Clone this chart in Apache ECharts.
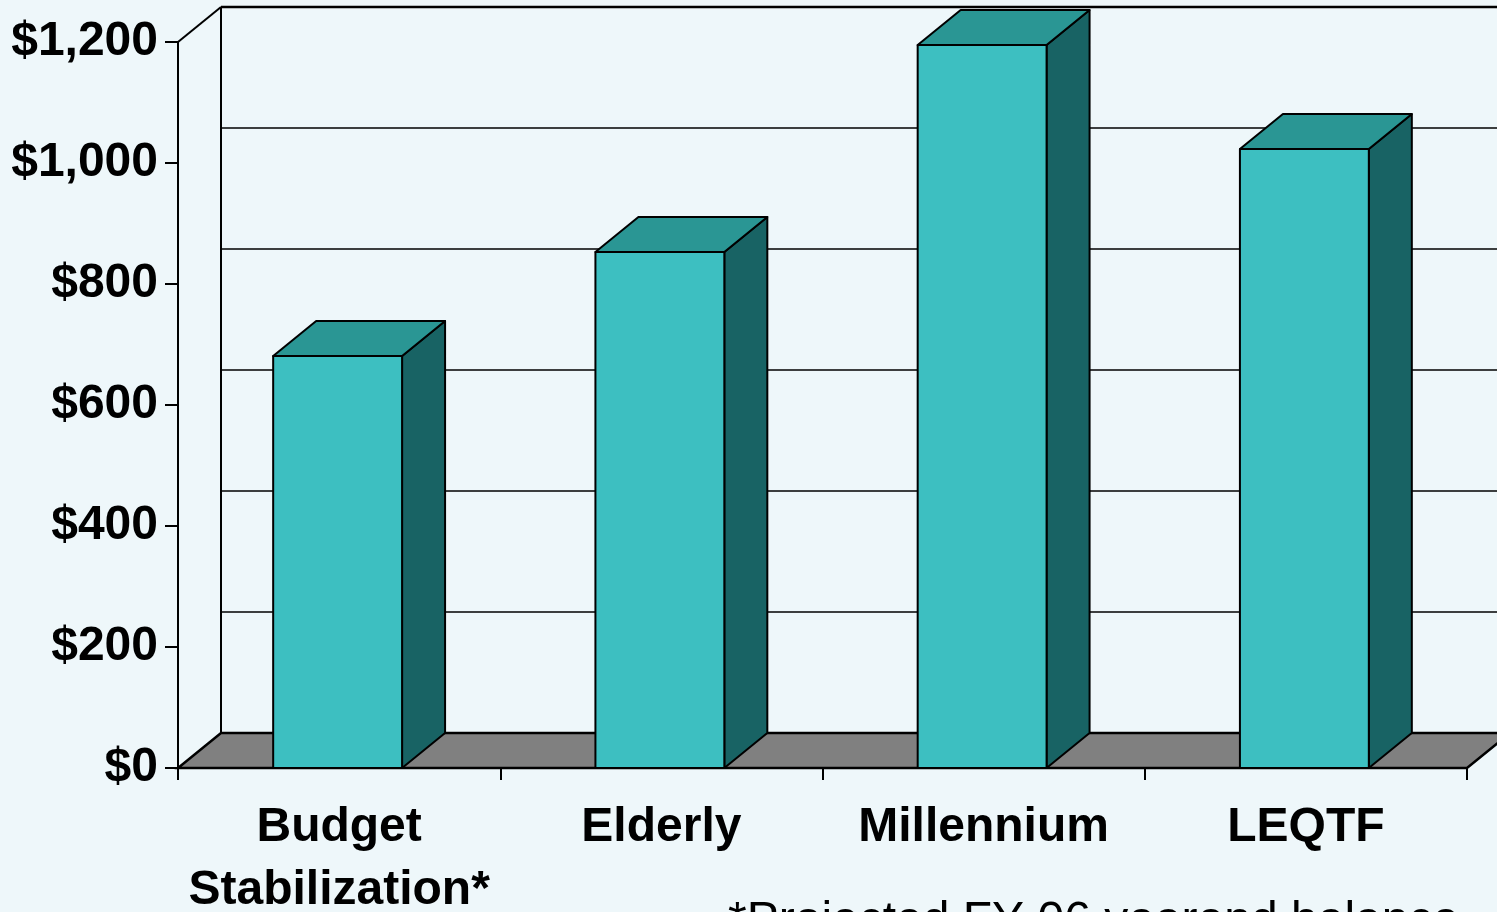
<!DOCTYPE html>
<html><head><meta charset="utf-8">
<script src="https://cdn.jsdelivr.net/npm/echarts@6/dist/echarts.min.js"></script>
<style>html,body{margin:0;padding:0;background:#EEF7FA;overflow:hidden}#c{width:1497px;height:912px}</style>
</head><body><div id="c"></div>
<script>
const categories = ['Budget\nStabilization*', 'Elderly', 'Millennium', 'LEQTF'];
const values = [681, 853, 1195, 1023];
const yTicks = [0, 200, 400, 600, 800, 1000, 1200];
const yTickLabels = ['$0', '$200', '$400', '$600', '$800', '$1,000', '$1,200'];
const footnote = '*Projected FY 06 yearend balance';

const DX = 43, DY = -35;
const FONT = '"Liberation Sans", Arial, Helvetica, sans-serif';
const chart = echarts.init(document.getElementById('c'), null, {renderer: 'canvas'});

function frameItem(params, api) {
  const cs = params.coordSys;
  const v = api.value(0);
  const y = api.coord([0, v])[1];
  const left = cs.x, right = cs.x + cs.width;
  const maxV = yTicks[yTicks.length - 1];
  const children = [];
  if (v === 0) {
    children.push({type: 'polygon', shape: {points: [[left, y], [right, y], [right + DX, y + DY], [left + DX, y + DY]]},
      style: {fill: '#808080', stroke: '#000', lineWidth: 2.5}});
    const top = api.coord([0, maxV])[1];
    children.push({type: 'line', shape: {x1: left + DX, y1: y + DY, x2: left + DX, y2: top + DY}, style: {stroke: '#000', lineWidth: 2}});
  } else {
    children.push({type: 'line', shape: {x1: left + DX, y1: y + DY, x2: right + DX, y2: y + DY},
      style: {stroke: '#000', lineWidth: v === maxV ? 2.5 : 1.5}});
  }
  if (v === maxV) {
    children.push({type: 'line', shape: {x1: left, y1: y, x2: left + DX, y2: y + DY}, style: {stroke: '#000', lineWidth: 2}});
  }
  return {type: 'group', children};
}

function barItem(params, api) {
  const idx = api.value(0);
  const v = api.value(1);
  const base = api.coord([idx, 0]);
  const top = api.coord([idx, v]);
  const bw = api.size([1, 0])[0] * 0.4;
  const x0 = base[0] - bw / 2 - 1.5, x1 = x0 + bw;
  const y0 = base[1], y1 = top[1];
  const st = {stroke: '#000', lineWidth: 2, lineJoin: 'round'};
  return {type: 'group', children: [
    {type: 'polygon', shape: {points: [[x1, y0], [x1 + DX, y0 + DY], [x1 + DX, y1 + DY], [x1, y1]]}, style: Object.assign({fill: '#186364'}, st)},
    {type: 'polygon', shape: {points: [[x0, y1], [x1, y1], [x1 + DX, y1 + DY], [x0 + DX, y1 + DY]]}, style: Object.assign({fill: '#2A9694'}, st)},
    {type: 'rect', shape: {x: x0, y: y1, width: bw, height: y0 - y1}, style: Object.assign({fill: '#3DBFC1'}, st)}
  ]};
}

chart.setOption({
  backgroundColor: '#EEF7FA',
  animation: false,
  grid: {left: 178, top: 42, width: 1289, height: 726, containLabel: false, outerBoundsMode: 'none'},
  xAxis: {
    type: 'category', data: categories, z: 5,
    axisLine: {show: true, lineStyle: {color: '#000', width: 2}},
    axisTick: {show: true, length: 12, lineStyle: {color: '#000', width: 2}},
    axisLabel: {color: '#000', fontSize: 48, fontWeight: 'bold', fontFamily: FONT, lineHeight: 63, margin: 28, interval: 0},
    splitLine: {show: false}
  },
  yAxis: {
    type: 'value', min: 0, max: 1200, interval: 200, z: 5,
    axisLine: {show: true, lineStyle: {color: '#000', width: 2}},
    axisTick: {show: true, length: 13, lineStyle: {color: '#000', width: 2}},
    axisLabel: {color: '#000', fontSize: 48, fontWeight: 'bold', fontFamily: FONT, margin: 20,
      formatter: (v) => yTickLabels[yTicks.indexOf(v)]},
    splitLine: {show: false}
  },
  series: [
    {type: 'custom', renderItem: frameItem, data: yTicks.map(v => [v]), encode: {y: 0}, silent: true, clip: false, z: 2},
    {type: 'custom', renderItem: barItem, data: values.map((v, i) => [i, v]), encode: {x: 0, y: 1}, clip: false, z: 3}
  ],
  graphic: [{type: 'text', left: 728, top: 898, style: {text: footnote, fill: '#000', font: '48px ' + FONT}}]
});
</script></body></html>
